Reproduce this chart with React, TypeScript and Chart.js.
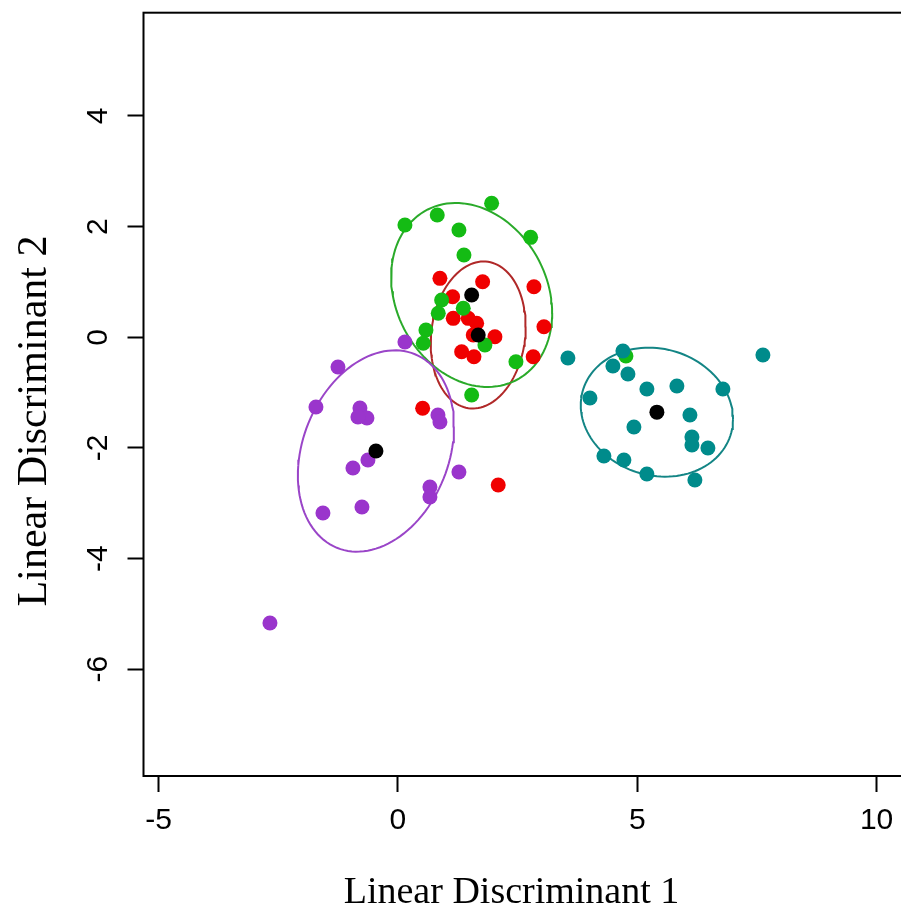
import React, { useEffect, useRef } from "react";
import { Chart, registerables } from "chart.js";

Chart.register(...registerables);

// Axis ranges and ticks
const X_TICKS = [-5, 0, 5, 10];
const Y_TICKS = [-6, -4, -2, 0, 2, 4];
const X_MIN = -5.316;
const X_MAX = 10.51;
const Y_MIN = -7.929;
const Y_MAX = 5.867;

const X_TITLE = "Linear Discriminant 1";
const Y_TITLE = "Linear Discriminant 2";

// Group 1 (purple)
const purpleX = [0.146, -1.253, -1.713, -0.794, -0.648, -0.836, 0.836, 0.877, -0.627, -0.94, 1.274, 0.668, 0.668, -1.567, -0.752, -2.674];
const purpleY = [-0.085, -0.537, -1.26, -1.278, -1.459, -1.441, -1.404, -1.531, -2.218, -2.362, -2.434, -2.706, -2.886, -3.176, -3.067, -5.164];

// Group 2 (green)
const greenX = [0.146, 0.821, 1.957, 1.274, 2.772, 1.379, 0.913, 0.842, 1.364, 0.585, 0.529, 1.817, 2.465, 1.54, 4.763];
const greenY = [2.03, 2.21, 2.422, 1.939, 1.807, 1.487, 0.674, 0.434, 0.524, 0.132, -0.108, -0.139, -0.441, -1.043, -0.338];

// Group 3 (red)
const redX = [0.877, 1.769, 2.841, 1.142, 1.155, 1.469, 1.644, 1.573, 2.026, 3.05, 1.331, 1.588, 2.826, 0.516, 2.095];
const redY = [1.066, 1.005, 0.915, 0.734, 0.343, 0.343, 0.253, 0.042, 0.011, 0.192, -0.26, -0.351, -0.351, -1.283, -2.669];

// Group 4 (teal)
const tealX = [3.551, 4.7, 4.491, 4.805, 4.011, 5.201, 5.828, 6.789, 6.1, 4.93, 6.142, 6.142, 6.476, 4.303, 4.721, 5.201, 6.204, 7.625];
const tealY = [-0.374, -0.248, -0.518, -0.663, -1.097, -0.934, -0.88, -0.934, -1.404, -1.621, -1.802, -1.947, -2.001, -2.145, -2.217, -2.47, -2.578, -0.319];

// Group centroids: purple, green, red, teal
const centroidX = [-0.46, 1.54, 1.677, 5.41];
const centroidY = [-2.055, 0.765, 0.042, -1.353];

// Ellipse spreads (covariance-like entries) per group: purple, green, red, teal
const ellipseSxx = [2.66, 2.83, 0.984, 2.53];
const ellipseSyy = [3.31, 2.765, 1.765, 1.36];
const ellipseSxy = [0.72, -0.55, 0.15, -0.2];

const POINT_COLORS = ["#9A35CC", "#14BB14", "#F00000", "#008B8B"];
const ELLIPSE_COLORS = ["#9A45C8", "#2AAA2A", "#B02828", "#138585"];

function zip(xs: number[], ys: number[]) {
  return xs.map((x, i) => ({ x, y: ys[i] }));
}

function ellipsePoints(g: number) {
  const cx = centroidX[g];
  const cy = centroidY[g];
  const l11 = Math.sqrt(ellipseSxx[g]);
  const l21 = ellipseSxy[g] / l11;
  const l22 = Math.sqrt(Math.max(ellipseSyy[g] - l21 * l21, 0));
  const pts: { x: number; y: number }[] = [];
  const n = 120;
  for (let i = 0; i <= n; i++) {
    const t = (i / n) * Math.PI * 2;
    pts.push({ x: cx + l11 * Math.cos(t), y: cy + l21 * Math.cos(t) + l22 * Math.sin(t) });
  }
  return pts;
}

const TICK_FONT = "'Liberation Sans', Arial, sans-serif";
const TITLE_FONT = "'Liberation Serif', 'Times New Roman', serif";

const boxPlugin = {
  id: "rbox",
  afterDraw(chart: any) {
    const { ctx, chartArea } = chart;
    ctx.save();
    ctx.strokeStyle = "#000";
    ctx.lineWidth = 2;
    ctx.strokeRect(chartArea.left, chartArea.top, chartArea.right - chartArea.left + 4, chartArea.bottom - chartArea.top);
    ctx.restore();
  },
};

const titlePlugin = {
  id: "rtitles",
  afterDraw(chart: any) {
    const { ctx } = chart;
    ctx.save();
    ctx.fillStyle = "#000";
    ctx.textAlign = "center";
    ctx.textBaseline = "alphabetic";
    ctx.font = `38px ${TITLE_FONT}`;
    ctx.fillText(X_TITLE, 511.5, 903);
    ctx.translate(46, 421);
    ctx.rotate(-Math.PI / 2);
    ctx.font = `42px ${TITLE_FONT}`;
    ctx.fillText(Y_TITLE, 0, 0);
    ctx.restore();
  },
};

export default function App() {
  const ref = useRef<HTMLCanvasElement | null>(null);

  useEffect(() => {
    if (!ref.current) return;
    const groupsX = [purpleX, greenX, redX, tealX];
    const groupsY = [purpleY, greenY, redY, tealY];
    const datasets: any[] = [];

    datasets.push({
      label: "centroids",
      data: zip(centroidX, centroidY),
      backgroundColor: "#000",
      borderColor: "#000",
      pointRadius: 7.5,
      borderWidth: 0,
      order: 0,
    });
    // point groups: drawn bottom→top red, green, purple, teal
    const drawOrder = [2, 1, 0, 3];
    drawOrder.forEach((g, k) => {
      datasets.push({
        label: "g" + g,
        data: zip(groupsX[g], groupsY[g]),
        backgroundColor: POINT_COLORS[g],
        borderColor: POINT_COLORS[g],
        pointRadius: 7.5,
        borderWidth: 0,
        order: 10 - k,
      });
    });
    [0, 1, 2, 3].forEach((g) => {
      datasets.push({
        label: "e" + g,
        data: ellipsePoints(g),
        showLine: true,
        borderColor: ELLIPSE_COLORS[g],
        borderWidth: 2,
        pointRadius: 0,
        fill: false,
        tension: 0,
        order: 20,
      });
    });

    const chart = new Chart(ref.current, {
      type: "scatter",
      data: { datasets },
      plugins: [boxPlugin, titlePlugin],
      options: {
        animation: false,
        responsive: false,
        devicePixelRatio: 1,
        layout: { autoPadding: false, padding: { top: 12.7, right: 0, left: 0, bottom: 0 } },
        plugins: { legend: { display: false }, tooltip: { enabled: false }, title: { display: false } },
        scales: {
          x: {
            type: "linear",
            min: X_MIN,
            max: X_MAX,
            border: { display: false },
            grid: { display: true, drawOnChartArea: false, drawTicks: true, tickLength: 16, tickColor: "#000", tickWidth: 2 },
            ticks: { color: "#000", font: { family: TICK_FONT, size: 30 }, padding: 11, maxRotation: 0, minRotation: 0 },
            afterBuildTicks: (s: any) => { s.ticks = X_TICKS.map((v) => ({ value: v })); },
            afterFit: (s: any) => { s.height = 913 - 776; s.paddingLeft = 0; s.paddingRight = 0; },
          },
          y: {
            type: "linear",
            min: Y_MIN,
            max: Y_MAX,
            border: { display: false },
            grid: { display: true, drawOnChartArea: false, drawTicks: true, tickLength: 16, tickColor: "#000", tickWidth: 2 },
            ticks: { color: "#000", font: { family: TICK_FONT, size: 30 }, padding: 15, minRotation: 90, maxRotation: 90, crossAlign: "center" },
            afterBuildTicks: (s: any) => { s.ticks = Y_TICKS.map((v) => ({ value: v })); },
            afterFit: (s: any) => { s.width = 143.5; s.paddingTop = 0; s.paddingBottom = 0; },
          },
        },
      } as any,
    });
    return () => chart.destroy();
  }, []);

  return (
    <div style={{ position: "absolute", left: 0, top: 0, width: 901, height: 913, background: "#fff" }}>
      <canvas ref={ref} width={901} height={913} style={{ width: "901px", height: "913px", display: "block" }} />
    </div>
  );
}
